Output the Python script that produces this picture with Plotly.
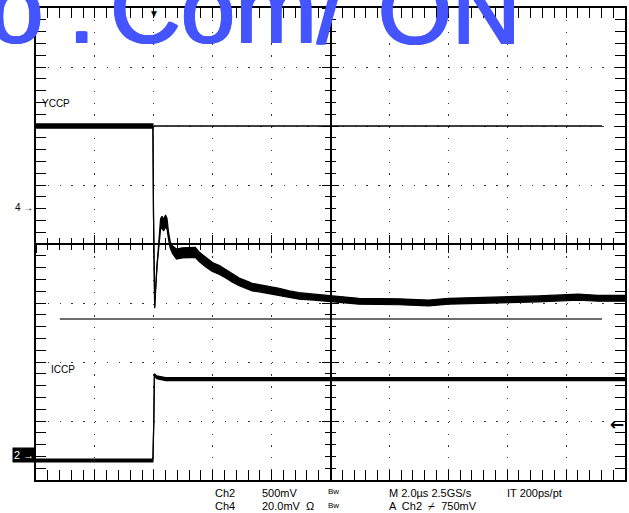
import plotly.graph_objects as go

# ---------------- data (time in us, amplitude in screen divisions) ----------------
yccp_t = [-4.00, -0.03, -0.01, 0.00, 0.03, 0.06, 0.08, 0.11, 0.14, 0.18, 0.23, 0.28, 0.33, 0.40,
          0.45, 0.50, 0.56, 0.64, 0.77, 0.97, 1.21, 1.41, 1.55, 1.79, 1.99, 2.23, 2.46, 2.67,
          2.90, 3.14, 3.34, 3.58, 3.92, 4.26, 4.60, 4.93, 5.44, 5.95, 6.46, 6.96, 8.32, 9.33,
          10.01, 11.70, 13.06, 14.41, 15.09, 16.00]
yccp_mid = [2.00, 2.00, 0.49, -0.27, -1.08, -0.78, -0.44, -0.36, -0.19, 0.02, 0.34, 0.37, 0.32, 0.39,
            0.34, 0.14, -0.02, -0.10, -0.17, -0.15, -0.14, -0.14, -0.22, -0.32, -0.39, -0.44, -0.51, -0.58,
            -0.64, -0.69, -0.73, -0.75, -0.78, -0.81, -0.85, -0.88, -0.90, -0.92, -0.95, -0.97, -0.98, -1.00,
            -0.97, -0.95, -0.93, -0.90, -0.92, -0.92]
yccp_spread = [0.035, 0.035, 0.01, 0.01, 0.01, 0.015, 0.02, 0.025, 0.03, 0.04,
               0.09, 0.10, 0.10, 0.10, 0.09, 0.06, 0.055, 0.065, 0.085, 0.085,
               0.085, 0.085, 0.08, 0.08, 0.075, 0.075, 0.07, 0.07, 0.065, 0.065,
               0.065, 0.06, 0.06, 0.06, 0.055, 0.055, 0.05, 0.05, 0.05, 0.05,
               0.05, 0.05, 0.05, 0.05, 0.05, 0.05, 0.05, 0.05]

iccp_t = [-4.00, -0.03, 0.00, 0.02, 0.10, 0.40, 16.00]
iccp_mid = [-3.67, -3.67, -3.00, -2.22, -2.26, -2.29, -2.29]
iccp_spread = [0.025, 0.025, 0.01, 0.02, 0.025, 0.025, 0.025]

ref1_t = [0.00, 15.22]
ref1_v = [2.00, 2.00]
ref2_t = [-3.19, 15.22]
ref2_v = [-1.27, -1.27]

x_range = [-4, 16]
y_range = [-4, 4]

# ---------------- figure ----------------
fig = go.Figure()

def band(t, mid, spread):
    lo = [m - s for m, s in zip(mid, spread)]
    hi = [m + s for m, s in zip(mid, spread)]
    fig.add_trace(go.Scatter(x=t, y=lo, mode='lines', line=dict(color='black', width=1.2),
                             hoverinfo='skip', showlegend=False))
    fig.add_trace(go.Scatter(x=t, y=hi, mode='lines', line=dict(color='black', width=1.2),
                             fill='tonexty', fillcolor='black', hoverinfo='skip', showlegend=False))

fig.add_trace(go.Scatter(x=ref2_t, y=ref2_v, mode='lines', line=dict(color='#6e6e6e', width=2),
                         hoverinfo='skip', showlegend=False))
fig.add_trace(go.Scatter(x=ref1_t, y=ref1_v, mode='lines', line=dict(color='black', width=1.3),
                         hoverinfo='skip', showlegend=False))
band(yccp_t, yccp_mid, yccp_spread)
band(iccp_t, iccp_mid, iccp_spread)

# dummy traces so the centre cross-hair axes exist
for xa, ya in [('x2', 'y'), ('x3', 'y'), ('x', 'y2'), ('x', 'y3')]:
    fig.add_trace(go.Scatter(x=[None], y=[None], xaxis=xa, yaxis=ya, mode='lines',
                             hoverinfo='skip', showlegend=False))

tickc = 'black'
main_x = dict(range=x_range, tick0=-4, dtick=2, showticklabels=False, zeroline=False,
              showgrid=True, gridcolor='#333', gridwidth=1, griddash='1.3px,10.52px',
              showline=True, linecolor='black', linewidth=2, mirror='allticks',
              ticks='inside', ticklen=10, tickwidth=1.3, tickcolor=tickc,
              minor=dict(tick0=-4, dtick=0.4, ticks='inside', ticklen=5, tickwidth=1.3,
                         tickcolor=tickc, showgrid=False))
main_y = dict(range=y_range, tick0=-4, dtick=1, showticklabels=False, zeroline=False,
              showgrid=True, gridcolor='#333', gridwidth=1, griddash='1.3px,10.5px',
              showline=True, linecolor='black', linewidth=2, mirror='allticks',
              ticks='inside', ticklen=10, tickwidth=1.3, tickcolor=tickc,
              minor=dict(tick0=-4, dtick=0.2, ticks='inside', ticklen=5, tickwidth=1.3,
                         tickcolor=tickc, showgrid=False))

def centre_x(side_ticks):
    return dict(range=x_range, tick0=-4, dtick=2, showticklabels=False, zeroline=False,
                showgrid=False, overlaying='x', anchor='free', position=0.5,
                showline=True, linecolor='black', linewidth=1.5,
                ticks=side_ticks, ticklen=8, tickwidth=1.3, tickcolor=tickc,
                minor=dict(tick0=-4, dtick=0.4, ticks=side_ticks, ticklen=5, tickwidth=1.3,
                           tickcolor=tickc, showgrid=False))

def centre_y(side_ticks):
    return dict(range=y_range, tick0=-4, dtick=1, showticklabels=False, zeroline=False,
                showgrid=False, overlaying='y', anchor='free', position=0.5,
                showline=True, linecolor='black', linewidth=1.5,
                ticks=side_ticks, ticklen=8, tickwidth=1.3, tickcolor=tickc,
                minor=dict(tick0=-4, dtick=0.2, ticks=side_ticks, ticklen=5, tickwidth=1.3,
                           tickcolor=tickc, showgrid=False))

L, T, W, H = 36, 8, 591, 472

def px(x):
    return (x - L) / W

def py(y):
    return (T + H - y) / H

font_lbl = 'Liberation Sans, Arial, sans-serif'
ann = []

def text(s, x, y, size=11, xanchor='left', yanchor='middle', color='black', family=font_lbl,
         shadow=None, **kw):
    f = dict(family=family, size=size, color=color)
    if shadow:
        f['shadow'] = shadow
    ann.append(dict(text=s, x=px(x), y=py(y), xref='paper', yref='paper', showarrow=False,
                    xanchor=xanchor, yanchor=yanchor, font=f, **kw))

# watermark (partly cut off by the top edge)
wm_col = '#4455ff'
thick = ('1px 0 0 {c}, -1px 0 0 {c}, 0 1px 0 {c}, 1px 1px 0 {c}, -1px 1px 0 {c}'
         .format(c=wm_col))
text('o', 46, 65, size=98, xanchor='right', yanchor='bottom', color=wm_col, shadow=thick)
text('.', 97, 65, size=98, xanchor='right', yanchor='bottom', color=wm_col, shadow=thick)
text('Com/', 108, 65, size=98, xanchor='left', yanchor='bottom', color=wm_col, shadow=thick)
text('ON', 377, 65, size=95, xanchor='left', yanchor='bottom', color=wm_col, shadow=thick)

text('YCCP', 40, 103, size=10)
text('ICCP', 49, 369, size=10)
text('4 →', 35, 207, size=10, xanchor='right')
text('2 →', 36, 455, size=11, xanchor='right', color='white', bgcolor='black', borderpad=1)
text('▼', 154, 6, size=10, xanchor='center', yanchor='top')
text('<b>←</b>', 628, 424, size=17, xanchor='right', family='DejaVu Sans')

row1, row2 = 493, 506
text('Ch2', 214, row1)
text('500mV', 261, row1)
text('Bw', 327, row1 - 1, size=8)
text('M 2.0µs 2.5GS/s', 388, row1)
text('IT 200ps/pt', 507, row1)
text('Ch4', 214, row2)
text('20.0mV  Ω', 261, row2)
text('Bw', 327, row2 - 1, size=8)
text('A  Ch2  ⌿  750mV', 388, row2)

fig.update_layout(
    width=629, height=513,
    margin=dict(l=L, r=629 - L - W, t=T, b=513 - T - H, pad=0),
    paper_bgcolor='white', plot_bgcolor='white',
    showlegend=False,
    xaxis=main_x, yaxis=main_y,
    xaxis2=centre_x('outside'), xaxis3=centre_x('inside'),
    yaxis2=centre_y('outside'), yaxis3=centre_y('inside'),
    annotations=ann,
)

fig.write_html('out.html', config={'displayModeBar': False},
               post_script="document.body.style.margin='0px';document.body.style.padding='0px';")
